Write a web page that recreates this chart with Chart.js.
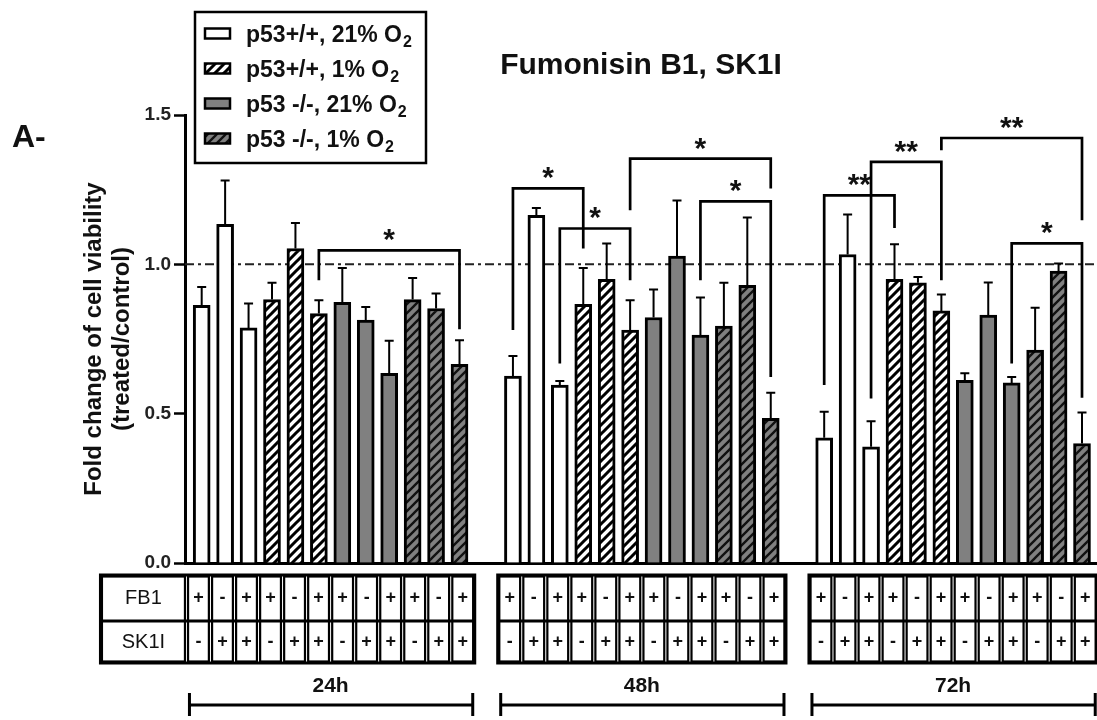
<!DOCTYPE html>
<html>
<head>
<meta charset="utf-8">
<script src="https://cdn.jsdelivr.net/npm/chart.js@4.4.0/dist/chart.umd.min.js"></script>
<style>
html, body { margin: 0; padding: 0; background: #fff; }
</style>
</head>
<body>
<canvas id="chart" width="1097" height="720"></canvas>
<script>
// time points and series
var times = ['24h', '48h', '72h'];
var seriesNames = ['p53+/+, 21% O\u2082', 'p53+/+, 1% O\u2082', 'p53 -/-, 21% O\u2082', 'p53 -/-, 1% O\u2082'];

// treatment rows under the bars (same for every time point)
var fb1 = ['+', '-', '+', '+', '-', '+', '+', '-', '+', '+', '-', '+'];
var sk1i = ['-', '+', '+', '-', '+', '+', '-', '+', '+', '-', '+', '+'];

// fold change of viability (bars 1-3 p53+/+ 21%, 4-6 p53+/+ 1%, 7-9 p53-/- 21%, 10-12 p53-/- 1%)
var means24 = [0.863, 1.134, 0.787, 0.882, 1.053, 0.835, 0.873, 0.813, 0.635, 0.882, 0.852, 0.665];
var means48 = [0.626, 1.164, 0.596, 0.866, 0.950, 0.780, 0.822, 1.028, 0.763, 0.793, 0.930, 0.484];
var means72 = [0.419, 1.033, 0.389, 0.950, 0.938, 0.844, 0.612, 0.830, 0.603, 0.713, 0.977, 0.400];

// upper error (SD)
var sd24 = [0.061, 0.147, 0.082, 0.056, 0.085, 0.045, 0.115, 0.044, 0.109, 0.072, 0.050, 0.081];
var sd48 = [0.067, 0.025, 0.013, 0.122, 0.120, 0.100, 0.094, 0.186, 0.126, 0.145, 0.227, 0.086];
var sd72 = [0.087, 0.134, 0.086, 0.117, 0.020, 0.055, 0.023, 0.109, 0.020, 0.142, 0.026, 0.104];

var yTicks = [0, 0.5, 1.0, 1.5];
var refLine = 1.0;

// significance brackets: [from bar, to bar, bracket top, left leg end, right leg end, label]
var sig24 = [[5, 11, 1.047, 0.947, 0.783, '*']];
var sig48 = [[0, 3, 1.254, 0.780, 1.053, '*'], [2, 5, 1.120, 0.668, 0.947, '*'],
             [5, 11, 1.354, 1.181, 1.254, '*'], [8, 11, 1.211, 0.947, 0.623, '*']];
var sig72 = [[0, 3, 1.231, 0.596, 1.122, '**'], [2, 5, 1.343, 0.551, 0.947, '**'],
             [5, 11, 1.423, 1.382, 1.148, '**'], [8, 11, 1.070, 0.668, 0.553, '*']];

var groups = [means24, means48, means72];
var sds = [sd24, sd48, sd72];
var sigs = [sig24, sig48, sig72];
var stride = 13.28;   // spacing between time point groups, in bar slots
var FONT = '"Liberation Sans", Arial, sans-serif';
Chart.defaults.font.family = FONT;

function hatch(bg, fg, lw) {
    var s = 9;
    var c = document.createElement('canvas');
    c.width = s; c.height = s;
    var g = c.getContext('2d');
    g.fillStyle = bg;
    g.fillRect(0, 0, s, s);
    g.strokeStyle = fg;
    g.lineWidth = lw;
    g.beginPath();
    for (var k = 0; k <= 2; k++) {
        g.moveTo(-2, k * s + 2);
        g.lineTo(k * s + 2, -2);
    }
    g.stroke();
    return g.createPattern(c, 'repeat');
}

var fills = ['#ffffff', hatch('#ffffff', '#000000', 3), '#808080', hatch('#808080', '#111111', 2.4)];

var datasets = seriesNames.map(function (name, s) {
    var pts = [];
    groups.forEach(function (vals, g) {
        for (var k = 0; k < 3; k++) {
            var i = s * 3 + k;
            pts.push({ x: g * stride + i, y: vals[i] });
        }
    });
    return {
        label: name,
        data: pts,
        backgroundColor: fills[s],
        borderColor: '#000',
        borderWidth: 3,
        barThickness: 17,
        grouped: false
    };
});

var refLinePlugin = {
    id: 'refLine',
    beforeDatasetsDraw: function (chart) {
        var ctx = chart.ctx, a = chart.chartArea;
        var py = chart.scales.y.getPixelForValue(refLine);
        ctx.save();
        ctx.strokeStyle = '#222';
        ctx.lineWidth = 2;
        ctx.setLineDash([9, 4, 3, 4]);
        ctx.beginPath();
        ctx.moveTo(a.left, py);
        ctx.lineTo(a.right, py);
        ctx.stroke();
        ctx.restore();
    }
};

var errorBars = {
    id: 'errorBars',
    afterDatasetsDraw: function (chart) {
        var ctx = chart.ctx, xs = chart.scales.x, ys = chart.scales.y;
        ctx.save();
        ctx.strokeStyle = '#000';
        ctx.lineWidth = 2;
        groups.forEach(function (vals, g) {
            vals.forEach(function (v, i) {
                var px = xs.getPixelForValue(g * stride + i);
                var top = ys.getPixelForValue(v + sds[g][i]);
                var base = ys.getPixelForValue(v);
                ctx.beginPath();
                ctx.moveTo(px, base);
                ctx.lineTo(px, top);
                ctx.moveTo(px - 4.5, top);
                ctx.lineTo(px + 4.5, top);
                ctx.stroke();
            });
        });
        ctx.restore();
    }
};

var brackets = {
    id: 'brackets',
    afterDatasetsDraw: function (chart) {
        var ctx = chart.ctx, xs = chart.scales.x, ys = chart.scales.y;
        ctx.save();
        ctx.strokeStyle = '#000';
        ctx.fillStyle = '#111';
        ctx.lineWidth = 2.7;
        ctx.font = 'bold 30px ' + FONT;
        ctx.textAlign = 'center';
        ctx.textBaseline = 'alphabetic';
        sigs.forEach(function (list, g) {
            list.forEach(function (b) {
                var xl = xs.getPixelForValue(g * stride + b[0]);
                var xr = xs.getPixelForValue(g * stride + b[1]);
                var ty = ys.getPixelForValue(b[2]);
                ctx.beginPath();
                ctx.moveTo(xl, ys.getPixelForValue(b[3]));
                ctx.lineTo(xl, ty);
                ctx.lineTo(xr, ty);
                ctx.lineTo(xr, ys.getPixelForValue(b[4]));
                ctx.stroke();
                ctx.fillText(b[5], (xl + xr) / 2, ty - 1);
            });
        });
        ctx.restore();
    }
};

var tablePlugin = {
    id: 'conditionTable',
    afterDraw: function (chart) {
        var ctx = chart.ctx, xs = chart.scales.x, base = chart.chartArea.bottom;
        var cw = (xs.getPixelForValue(1) - xs.getPixelForValue(0)) * 1.025;
        var top = base + 12, mid = base + 58, bot = base + 100;
        ctx.save();
        ctx.strokeStyle = '#000';
        ctx.fillStyle = '#111';
        ctx.textAlign = 'center';
        ctx.textBaseline = 'middle';
        times.forEach(function (t, g) {
            var c0 = xs.getPixelForValue(g * stride);
            var c11 = xs.getPixelForValue(g * stride + 11);
            var centre = (c0 + c11) / 2;
            var left = centre - 6 * cw, right = centre + 6 * cw;
            var boxLeft = g === 0 ? left - 86 : left;

            ctx.lineWidth = 2.2;
            for (var i = 0; i < 12; i++) {
                ctx.strokeRect(left + i * cw + 1.6, top + 1.5, cw - 3.2, bot - top - 3);
            }
            if (g === 0) {
                ctx.strokeRect(boxLeft + 1.5, top + 1.5, left - boxLeft - 3, bot - top - 3);
                ctx.font = '20px ' + FONT;
                ctx.fillText('FB1', (boxLeft + left) / 2, (top + mid) / 2);
                ctx.fillText('SK1I', (boxLeft + left) / 2, (mid + bot) / 2);
            }
            ctx.lineWidth = 3;
            ctx.strokeRect(boxLeft, top, right - boxLeft, bot - top);
            ctx.beginPath();
            ctx.moveTo(boxLeft, mid);
            ctx.lineTo(right, mid);
            ctx.stroke();

            ctx.font = 'bold 18px ' + FONT;
            for (var j = 0; j < 12; j++) {
                var cx = left + (j + 0.5) * cw;
                ctx.fillText(fb1[j], cx, (top + mid) / 2);
                ctx.fillText(sk1i[j], cx, (mid + bot) / 2);
            }

            // time span bar
            var ly = base + 142;
            ctx.lineWidth = 3;
            ctx.beginPath();
            ctx.moveTo(left + 3, ly);
            ctx.lineTo(right - 2, ly);
            ctx.moveTo(left + 3, ly - 12);
            ctx.lineTo(left + 3, ly + 11);
            ctx.moveTo(right - 2, ly - 12);
            ctx.lineTo(right - 2, ly + 11);
            ctx.stroke();
            ctx.font = 'bold 21px ' + FONT;
            ctx.textBaseline = 'alphabetic';
            ctx.fillText(t, centre, base + 129);
            ctx.textBaseline = 'middle';
        });
        ctx.restore();
    }
};

var legendPlugin = {
    id: 'boxLegend',
    afterDraw: function (chart) {
        var ctx = chart.ctx;
        ctx.save();
        ctx.strokeStyle = '#000';
        ctx.lineWidth = 2.5;
        ctx.strokeRect(195, 12, 231, 151);
        chart.data.datasets.forEach(function (ds, s) {
            var cy = 33.5 + s * 35;
            ctx.fillStyle = ds.backgroundColor;
            ctx.fillRect(205, cy - 5, 25, 10);
            ctx.lineWidth = 2.5;
            ctx.strokeRect(205, cy - 5, 25, 10);
            var main = ds.label.replace('\u2082', '');
            ctx.fillStyle = '#111';
            ctx.textAlign = 'left';
            ctx.textBaseline = 'alphabetic';
            ctx.font = 'bold 23px ' + FONT;
            ctx.fillText(main, 246, cy + 8);
            var w = ctx.measureText(main).width;
            ctx.font = 'bold 16px ' + FONT;
            ctx.fillText('2', 246 + w + 1, cy + 13);
        });
        ctx.font = 'bold 32px ' + FONT;
        ctx.fillStyle = '#111';
        ctx.fillText('A-', 12, 147);
        ctx.restore();
    }
};

new Chart(document.getElementById('chart'), {
    type: 'bar',
    data: { datasets: datasets },
    options: {
        responsive: false,
        animation: false,
        layout: { padding: { left: 80, right: 0, top: 0, bottom: 157 } },
        plugins: {
            legend: { display: false },
            tooltip: { enabled: false },
            title: {
                display: true,
                text: 'Fumonisin B1, SK1I',
                fullSize: false,
                color: '#111',
                font: { size: 30, weight: 'bold', family: FONT },
                padding: { top: 48, bottom: 31 }
            }
        },
        scales: {
            x: {
                type: 'linear',
                min: -0.712,
                max: 38.2,
                offset: false,
                ticks: { display: false },
                grid: { display: false, drawTicks: false },
                border: { display: true, color: '#000', width: 3 }
            },
            y: {
                min: 0,
                max: 1.5,
                afterFit: function (scale) { scale.width = 105; },
                afterBuildTicks: function (scale) {
                    scale.ticks = yTicks.map(function (v) { return { value: v }; });
                },
                ticks: {
                    color: '#222',
                    padding: 3,
                    font: { size: 19, weight: 'bold', family: FONT },
                    callback: function (v) { return Number(v).toFixed(1); }
                },
                grid: {
                    display: true,
                    drawOnChartArea: false,
                    drawTicks: true,
                    tickLength: 11,
                    tickColor: '#000',
                    tickWidth: 2.5
                },
                border: { display: true, color: '#000', width: 3 },
                title: {
                    display: true,
                    text: ['Fold change of cell viability', '(treated/control)'],
                    color: '#111',
                    font: { size: 24, weight: 'bold', family: FONT, lineHeight: 1.15 },
                    padding: { top: 1, bottom: 0 }
                }
            }
        }
    },
    plugins: [refLinePlugin, errorBars, brackets, tablePlugin, legendPlugin]
});
</script>
</body>
</html>
